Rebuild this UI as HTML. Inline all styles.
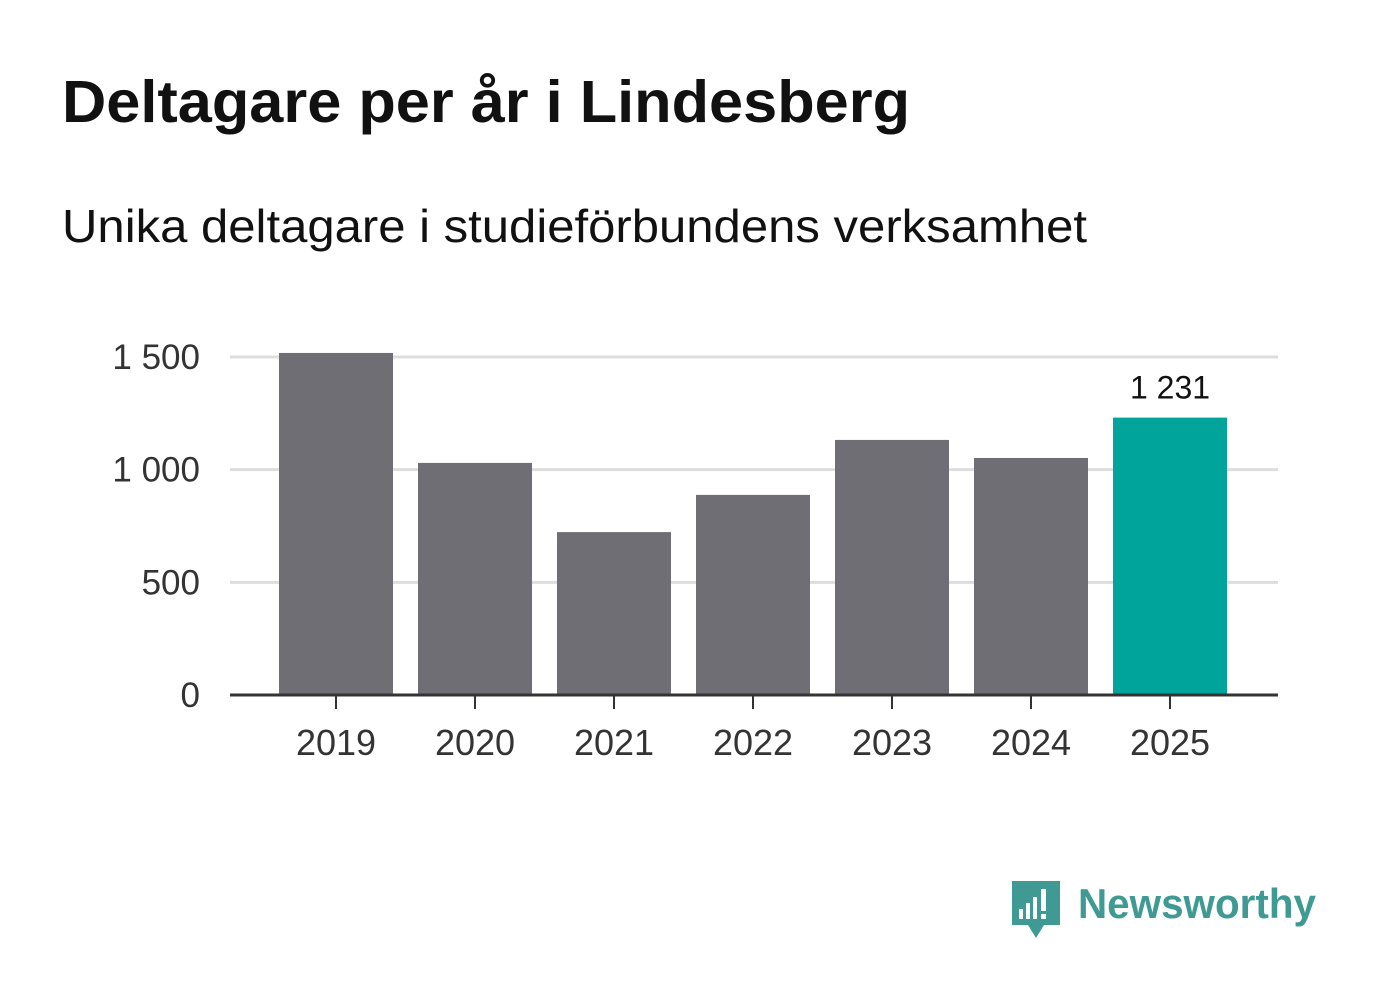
<!DOCTYPE html>
<html><head><meta charset="utf-8"><style>
body{margin:0;background:#fff;width:1382px;height:999px;overflow:hidden;font-family:"Liberation Sans",sans-serif}
</style></head><body>
<svg width="1382" height="999" xmlns="http://www.w3.org/2000/svg">
<text x="62" y="122" font-size="59" font-weight="bold" fill="#111" textLength="848" lengthAdjust="spacingAndGlyphs">Deltagare per år i Lindesberg</text>
<text x="62" y="242" font-size="46" fill="#111" textLength="1025" lengthAdjust="spacingAndGlyphs">Unika deltagare i studieförbundens verksamhet</text>
<g id="grid"></g><g id="bars"></g><g id="axis"></g>
<g>
<path d="M1012 881h48v44h-16l-8 13-8-13h-16z" fill="#3f9a93"/>
<rect x="1019" y="909" width="4" height="10" fill="#fff"/><rect x="1026" y="903" width="4" height="16" fill="#fff"/><rect x="1033" y="897" width="4" height="22" fill="#fff"/><rect x="1041" y="889" width="5" height="22" fill="#fff"/><rect x="1041" y="914" width="5" height="5" fill="#fff"/>
<text x="1078" y="918" font-size="42" font-weight="bold" fill="#3f9a93" textLength="238" lengthAdjust="spacingAndGlyphs">Newsworthy</text>
</g>
</svg>
<script>
const categories=["2019","2020","2021","2022","2023","2024","2025"];
const values=[1518,1030,723,888,1132,1052,1231];
const yTicks=[0,500,1000,1500];
const yTickLabels=["0","500","1 000","1 500"];
const highlightLabel="1 231";
const ns="http://www.w3.org/2000/svg";
const y0=695,pxPer=338/1500,x0=336,step=139,bw=114;
const y=v=>y0-v*pxPer, x=i=>x0+i*step;
function mk(t,a,p){const e=document.createElementNS(ns,t);for(const k in a)e.setAttribute(k,a[k]);p.appendChild(e);return e;}
const grid=document.getElementById('grid'),bars=document.getElementById('bars'),axis=document.getElementById('axis');
yTicks.forEach((t,i)=>{
 if(t>0){const l=mk('line',{x1:230,x2:1278,y1:y(t),y2:y(t),stroke:'#ddd','stroke-width':3},grid);
 
 }
 const tx=mk('text',{x:200,y:y(t)+12,'font-size':35,'text-anchor':'end',fill:'#333'},axis);tx.textContent=yTickLabels[i];
 
 
});
values.forEach((v,i)=>{
 const last=i===values.length-1;
 const r=mk('rect',{x:x(i)-bw/2,y:y(v),width:bw,height:y0-y(v),fill:last?'#00a49a':'#6f6e74'},bars);
 
 
 const tk=mk('line',{x1:x(i),x2:x(i),y1:y0,y2:y0+14,stroke:'#333','stroke-width':2},axis);
 
 
 const tx=mk('text',{x:x(i),y:755,'font-size':36,'text-anchor':'middle',fill:'#333'},axis);tx.textContent=categories[i];
 
 
 if(last){const vl=mk('text',{x:x(i),y:y(v)-19,'font-size':32,'text-anchor':'middle',fill:'#111'},axis);vl.textContent=highlightLabel;
 
 }
});
const base=mk('line',{x1:230,x2:1278,y1:y0,y2:y0,stroke:'#333','stroke-width':3},axis);


</script>
</body></html>
